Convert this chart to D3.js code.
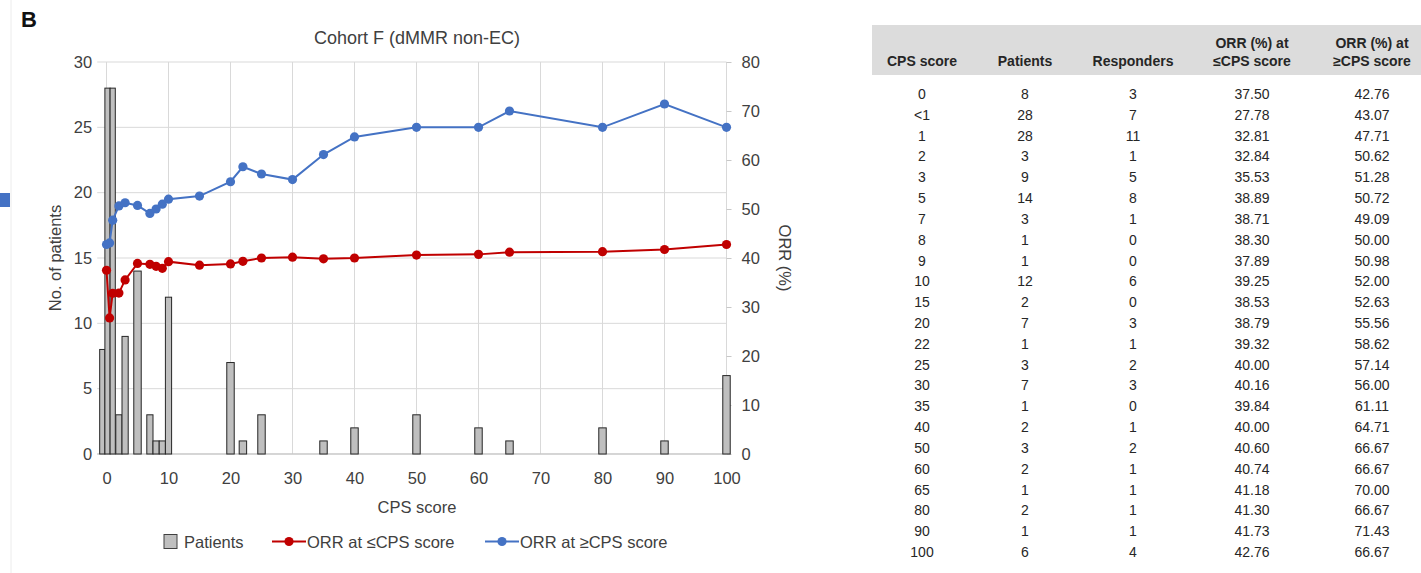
<!DOCTYPE html>
<html lang="en">
<head>
  <meta charset="UTF-8">
  <title>Cohort F (dMMR non-EC)</title>
  <script src="https://d3js.org/d3.v7.min.js"></script>
  <style>
    body {
      margin: 0;
      background: #fff;
      font-family: "Liberation Sans", Arial, sans-serif;
    }
    svg {
      display: block;
    }
    .grid line {
      stroke: #d9d9d9;
      stroke-width: 1;
    }
    .tick-label {
      fill: #404040;
      font-size: 16.5px;
    }
    .cell {
      fill: #262626;
      font-size: 14px;
    }
    .head {
      fill: #262626;
      font-size: 14px;
      font-weight: bold;
    }
  </style>
</head>
<body>

  <svg id="chart" width="1421" height="573"></svg>

  <script>
    const cpsLabels = ["0", "<1", "1", "2", "3", "5", "7", "8", "9", "10", "15", "20", "22", "25", "30", "35", "40", "50", "60", "65", "80", "90", "100"];
    const cpsX = [0, 0.5, 1, 2, 3, 5, 7, 8, 9, 10, 15, 20, 22, 25, 30, 35, 40, 50, 60, 65, 80, 90, 100];
    const patients = [8, 28, 28, 3, 9, 14, 3, 1, 1, 12, 2, 7, 1, 3, 7, 1, 2, 3, 2, 1, 2, 1, 6];
    const responders = [3, 7, 11, 1, 5, 8, 1, 0, 0, 6, 0, 3, 1, 2, 3, 0, 1, 2, 1, 1, 1, 1, 4];
    const orrLe = [37.50, 27.78, 32.81, 32.84, 35.53, 38.89, 38.71, 38.30, 37.89, 39.25, 38.53, 38.79, 39.32, 40.00, 40.16, 39.84, 40.00, 40.60, 40.74, 41.18, 41.30, 41.73, 42.76];
    const orrGe = [42.76, 43.07, 47.71, 50.62, 51.28, 50.72, 49.09, 50.00, 50.98, 52.00, 52.63, 55.56, 58.62, 57.14, 56.00, 61.11, 64.71, 66.67, 66.67, 70.00, 66.67, 71.43, 66.67];
    // bar heights as drawn in the figure (no bars appear at CPS 15 and 30)
    const barPatients = [8, 28, 28, 3, 9, 14, 3, 1, 1, 12, 0, 7, 1, 3, 0, 1, 2, 3, 2, 1, 2, 1, 6];

    const xTicks = [0, 10, 20, 30, 40, 50, 60, 70, 80, 90, 100];
    const leftTicks = [0, 5, 10, 15, 20, 25, 30];
    const rightTicks = [0, 10, 20, 30, 40, 50, 60, 70, 80];

    const tableHeads = [["CPS score"], ["Patients"], ["Responders"], ["ORR (%) at", "\u2264CPS score"], ["ORR (%) at", "\u2265CPS score"]];

    const red = "#c00000";
    const blue = "#4472c4";

    const svg = d3.select("#chart");

    // left margin decorations from the original figure page
    svg.append("line")
      .attr("x1", 11).attr("x2", 11).attr("y1", 0).attr("y2", 573)
      .attr("stroke", "#ececec");
    svg.append("rect")
      .attr("x", 0).attr("y", 193).attr("width", 10).attr("height", 14)
      .attr("fill", blue);

    svg.append("text")
      .attr("x", 21).attr("y", 27)
      .attr("font-size", 22).attr("font-weight", "bold").attr("fill", "#111")
      .text("B");

    // ---- chart ----
    const x = d3.scaleLinear().domain([0, 100]).range([106.5, 726.5]);
    const yL = d3.scaleLinear().domain([0, 30]).range([454, 62]);
    const yR = d3.scaleLinear().domain([0, 80]).range([454, 62]);
    const plotLeft = x(-1.5);

    svg.append("text")
      .attr("x", 417).attr("y", 44)
      .attr("text-anchor", "middle")
      .attr("font-size", 18).attr("fill", "#404040")
      .text("Cohort F (dMMR non-EC)");

    const grid = svg.append("g").attr("class", "grid");
    grid.selectAll(".h")
      .data(leftTicks)
      .enter().append("line")
      .attr("x1", plotLeft).attr("x2", x(100))
      .attr("y1", d => yL(d)).attr("y2", d => yL(d));
    grid.selectAll(".v")
      .data(xTicks)
      .enter().append("line")
      .attr("x1", d => x(d)).attr("x2", d => x(d))
      .attr("y1", yL(30)).attr("y2", yL(0));

    // baseline
    svg.append("line")
      .attr("x1", plotLeft).attr("x2", x(100))
      .attr("y1", yL(0)).attr("y2", yL(0))
      .attr("stroke", "#bfbfbf");

    // axes (labels only)
    const axL = svg.append("g")
      .attr("transform", `translate(${plotLeft},0)`)
      .call(d3.axisLeft(yL).tickValues(leftTicks).tickSize(0).tickPadding(5));
    const axR = svg.append("g")
      .attr("transform", `translate(${x(100)},0)`)
      .call(d3.axisRight(yR).tickValues(rightTicks).tickSize(5).tickPadding(10));
    const axB = svg.append("g")
      .attr("transform", `translate(0,${yL(0)})`)
      .call(d3.axisBottom(x).tickValues(xTicks).tickSize(0).tickPadding(18));
    [axL, axR, axB].forEach(a => {
      a.select(".domain").remove();
      a.selectAll("text").attr("class", "tick-label").attr("font-family", null).attr("font-size", null);
      a.selectAll(".tick line").attr("stroke", "#c8c8c8");
    });

    svg.append("text")
      .attr("transform", `translate(61,258) rotate(-90)`)
      .attr("text-anchor", "middle")
      .attr("class", "tick-label")
      .text("No. of patients");
    svg.append("text")
      .attr("transform", `translate(779,258) rotate(90)`)
      .attr("text-anchor", "middle")
      .attr("class", "tick-label")
      .text("ORR (%)");
    svg.append("text")
      .attr("x", 417).attr("y", 513)
      .attr("text-anchor", "middle")
      .attr("class", "tick-label")
      .text("CPS score");

    // bars: nominal width 1.2 units, narrower in crowded spots, pushed apart right-to-left
    const bars = cpsX.map((v, i) => {
      const gaps = [];
      if (i > 0) gaps.push(v - cpsX[i - 1]);
      if (i < cpsX.length - 1) gaps.push(cpsX[i + 1] - v);
      const half = Math.min(0.6, Math.max(0.42, d3.min(gaps) / 2));
      return { v: v, n: barPatients[i], half: half };
    });
    let nextLeft = Infinity;
    for (let i = bars.length - 1; i >= 0; i--) {
      const b = bars[i];
      b.right = Math.min(b.v + b.half, nextLeft);
      b.left = b.right - 2 * b.half;
      nextLeft = b.left;
    }

    svg.append("g")
      .selectAll("rect")
      .data(bars.filter(b => b.n > 0))
      .enter().append("rect")
      .attr("x", d => x(d.left))
      .attr("width", d => x(d.right) - x(d.left))
      .attr("y", d => yL(d.n))
      .attr("height", d => yL(0) - yL(d.n))
      .attr("fill", "#bfbfbf")
      .attr("stroke", "#262626")
      .attr("stroke-width", 1);

    // lines on the right axis
    const line = d3.line().x(d => x(d[0])).y(d => yR(d[1]));
    const series = [
      { values: cpsX.map((v, i) => [v, orrLe[i]]), color: red },
      { values: cpsX.map((v, i) => [v, orrGe[i]]), color: blue }
    ];
    series.forEach(s => {
      svg.append("path")
        .datum(s.values)
        .attr("d", line)
        .attr("fill", "none")
        .attr("stroke", s.color)
        .attr("stroke-width", 2);
      svg.append("g")
        .selectAll("circle")
        .data(s.values)
        .enter().append("circle")
        .attr("cx", d => x(d[0]))
        .attr("cy", d => yR(d[1]))
        .attr("r", 4.6)
        .attr("fill", s.color);
    });

    // legend
    const lg = svg.append("g").attr("transform", "translate(0,541.5)");
    lg.append("rect")
      .attr("x", 164).attr("y", -7).attr("width", 13).attr("height", 14)
      .attr("fill", "#bfbfbf").attr("stroke", "#404040");
    lg.append("text").attr("class", "tick-label").attr("x", 184).attr("y", 6).text("Patients");
    [[272, red, "ORR at \u2264CPS score"], [485, blue, "ORR at \u2265CPS score"]].forEach(([lx, c, t]) => {
      lg.append("line").attr("x1", lx).attr("x2", lx + 34).attr("stroke", c).attr("stroke-width", 2);
      lg.append("circle").attr("cx", lx + 17).attr("r", 4.6).attr("fill", c);
      lg.append("text").attr("class", "tick-label").attr("x", lx + 35).attr("y", 6).text(t);
    });

    // ---- table ----
    const colX = [922, 1025, 1133, 1252, 1372];
    const rowY = d3.scaleLinear().domain([0, cpsLabels.length - 1]).range([94, 552]);

    svg.append("rect")
      .attr("x", 872).attr("y", 25).attr("width", 549).attr("height", 50)
      .attr("fill", "#dcdcdc");

    tableHeads.forEach((lines, c) => {
      const t = svg.append("text")
        .attr("class", "head")
        .attr("text-anchor", "middle")
        .attr("x", colX[c]);
      lines.forEach((l, k) => {
        t.append("tspan")
          .attr("x", colX[c])
          .attr("y", 66 - (lines.length - 1 - k) * 18.5)
          .text(l);
      });
    });

    const rows = cpsLabels.map((lab, i) => [lab, patients[i], responders[i], orrLe[i].toFixed(2), orrGe[i].toFixed(2)]);
    const rowG = svg.append("g")
      .selectAll("g")
      .data(rows)
      .enter().append("g")
      .attr("transform", (d, i) => `translate(0,${rowY(i) + 5})`);
    rowG.selectAll("text")
      .data(d => d)
      .enter().append("text")
      .attr("class", "cell")
      .attr("text-anchor", "middle")
      .attr("x", (d, i) => colX[i])
      .text(d => d);
  </script>
</body>
</html>
